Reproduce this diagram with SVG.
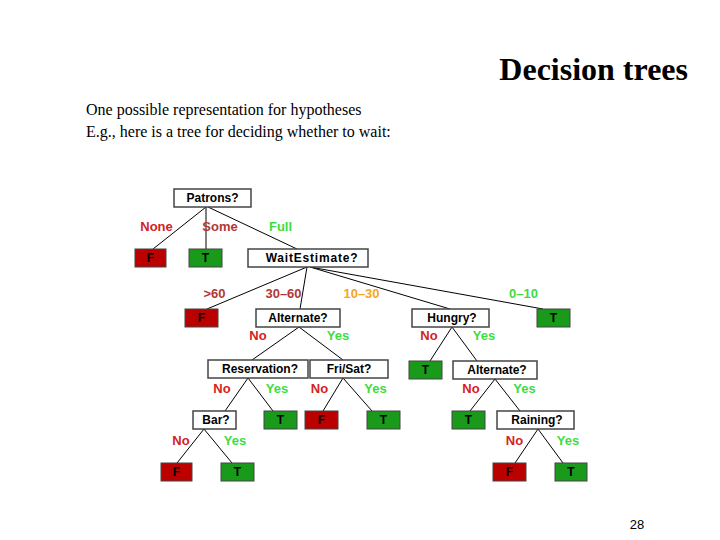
<svg xmlns="http://www.w3.org/2000/svg" width="720" height="540" viewBox="0 0 720 540">
<style>
.q{fill:#fff;stroke:#444;stroke-width:1.5}
.f{fill:#bb0000;stroke:#444;stroke-width:1}
.t{fill:#1a9a1a;stroke:#444;stroke-width:1}
.nt{font-family:"Liberation Sans",Arial,sans-serif;font-weight:bold;font-size:12px;fill:#000;text-anchor:middle;dominant-baseline:central}
.lb{font-family:"Liberation Sans",Arial,sans-serif;font-weight:bold;font-size:13px;text-anchor:middle;dominant-baseline:central}
.no{fill:#d42222}
.yes{fill:#3fdc3f}
.mr{fill:#b03838}
.or{fill:#f5a623}
.body{font-family:"Liberation Serif","Times New Roman",serif;font-size:16px;fill:#000}
#edges line{stroke:#000;stroke-width:1}
</style>
<rect width="720" height="540" fill="#fff"/>
<text x="688" y="80" font-family="Liberation Serif,'Times New Roman',serif" font-weight="bold" font-size="32" text-anchor="end" fill="#000">Decision trees</text>
<text class="body" x="86" y="115">One possible representation for hypotheses</text>
<text class="body" x="86" y="137">E.g., here is a tree for deciding whether to wait:</text>
<text x="637" y="529" font-family="Liberation Sans,Arial,sans-serif" font-size="13" text-anchor="middle" fill="#000">28</text>
<g id="edges">
<line x1="206" y1="207" x2="153" y2="249"/>
<line x1="206" y1="207" x2="206" y2="249"/>
<line x1="208" y1="207" x2="297" y2="249"/>
<line x1="307" y1="267" x2="207" y2="309"/>
<line x1="307" y1="267" x2="300" y2="309"/>
<line x1="310" y1="267" x2="450" y2="309"/>
<line x1="310" y1="267" x2="543" y2="309"/>
<line x1="299" y1="327" x2="252" y2="360"/>
<line x1="299" y1="327" x2="343" y2="360"/>
<line x1="248" y1="378" x2="225" y2="411"/>
<line x1="248" y1="378" x2="273" y2="411"/>
<line x1="343" y1="378" x2="323" y2="411"/>
<line x1="343" y1="378" x2="372" y2="411"/>
<line x1="204" y1="429" x2="177" y2="463"/>
<line x1="204" y1="429" x2="232" y2="463"/>
<line x1="452" y1="327" x2="430" y2="361"/>
<line x1="452" y1="327" x2="477" y2="361"/>
<line x1="495" y1="379" x2="470" y2="411"/>
<line x1="495" y1="379" x2="520" y2="411"/>
<line x1="538" y1="429" x2="515" y2="463"/>
<line x1="538" y1="429" x2="563" y2="463"/>
</g>
<g id="labels">
<text class="lb no" x="156.5" y="226">None</text>
<text class="lb mr" x="220" y="226">Some</text>
<text class="lb yes" x="280.5" y="226">Full</text>
<text class="lb mr" x="214.5" y="293">&gt;60</text>
<text class="lb mr" x="283.5" y="293">30–60</text>
<text class="lb or" x="361.5" y="293">10–30</text>
<text class="lb yes" x="523.5" y="293">0–10</text>
<text class="lb no" x="258" y="335">No</text>
<text class="lb yes" x="338" y="335">Yes</text>
<text class="lb no" x="429" y="335">No</text>
<text class="lb yes" x="484" y="335">Yes</text>
<text class="lb no" x="222" y="388">No</text>
<text class="lb yes" x="277" y="388">Yes</text>
<text class="lb no" x="319.5" y="388">No</text>
<text class="lb yes" x="375.5" y="388">Yes</text>
<text class="lb no" x="471" y="388">No</text>
<text class="lb yes" x="524.5" y="388">Yes</text>
<text class="lb no" x="181" y="440">No</text>
<text class="lb yes" x="235" y="440">Yes</text>
<text class="lb no" x="514.5" y="440">No</text>
<text class="lb yes" x="568" y="440">Yes</text>
</g>
<g id="patrons"><rect class="q" x="174" y="189" width="77" height="18"/><text class="nt" x="212.5" y="198">Patrons?</text></g>
<g id="leaf-none"><rect class="f" x="135" y="249" width="31" height="18"/><text class="nt" x="150.5" y="258">F</text></g>
<g id="leaf-some"><rect class="t" x="189" y="249" width="33" height="18"/><text class="nt" x="205.5" y="258">T</text></g>
<g id="waitestimate"><rect class="q" x="248" y="249" width="120" height="18"/><text class="nt" x="312" y="258" letter-spacing="0.8">WaitEstimate?</text></g>
<g id="leaf-60"><rect class="f" x="185" y="309" width="33" height="18"/><text class="nt" x="201.5" y="318">F</text></g>
<g id="alternate1"><rect class="q" x="256" y="309" width="84" height="18"/><text class="nt" x="298" y="318">Alternate?</text></g>
<g id="hungry"><rect class="q" x="412" y="309" width="77" height="18"/><text class="nt" x="452" y="318">Hungry?</text></g>
<g id="leaf-010"><rect class="t" x="537" y="309" width="33" height="18"/><text class="nt" x="553.5" y="318">T</text></g>
<g id="reservation"><rect class="q" x="208" y="360" width="100" height="18"/><text class="nt" x="260" y="369">Reservation?</text></g>
<g id="frisat"><rect class="q" x="310" y="360" width="78" height="18"/><text class="nt" x="349" y="369">Fri/Sat?</text></g>
<g id="leaf-hungry-no"><rect class="t" x="409" y="361" width="33" height="18"/><text class="nt" x="425.5" y="370">T</text></g>
<g id="alternate2"><rect class="q" x="453" y="361" width="84" height="18"/><text class="nt" x="497" y="370">Alternate?</text></g>
<g id="bar"><rect class="q" x="193" y="411" width="43" height="18"/><text class="nt" x="216" y="420">Bar?</text></g>
<g id="leaf-res-yes"><rect class="t" x="264" y="411" width="33" height="18"/><text class="nt" x="280.5" y="420">T</text></g>
<g id="leaf-fri-no"><rect class="f" x="305" y="411" width="33" height="18"/><text class="nt" x="321.5" y="420">F</text></g>
<g id="leaf-fri-yes"><rect class="t" x="367" y="411" width="33" height="18"/><text class="nt" x="383.5" y="420">T</text></g>
<g id="leaf-alt2-no"><rect class="t" x="452" y="411" width="33" height="18"/><text class="nt" x="468.5" y="420">T</text></g>
<g id="raining"><rect class="q" x="497" y="411" width="77" height="18"/><text class="nt" x="537" y="420">Raining?</text></g>
<g id="leaf-bar-no"><rect class="f" x="161" y="463" width="31" height="18"/><text class="nt" x="176.5" y="472">F</text></g>
<g id="leaf-bar-yes"><rect class="t" x="221" y="463" width="33" height="18"/><text class="nt" x="237.5" y="472">T</text></g>
<g id="leaf-rain-no"><rect class="f" x="493" y="463" width="33" height="18"/><text class="nt" x="509.5" y="472">F</text></g>
<g id="leaf-rain-yes"><rect class="t" x="555" y="463" width="32" height="18"/><text class="nt" x="571" y="472">T</text></g>
</svg>
